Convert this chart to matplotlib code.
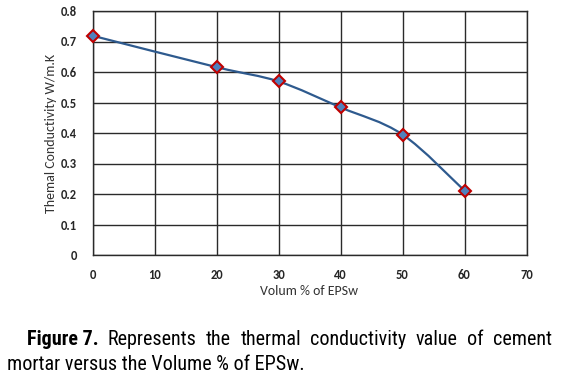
import numpy as np
import matplotlib
matplotlib.use("Agg")
import matplotlib.pyplot as plt
from matplotlib.path import Path
from matplotlib.patches import PathPatch

volume = [0, 20, 30, 40, 50, 60]
conductivity = [0.719, 0.616, 0.569, 0.484, 0.395, 0.211]

x_ticks = [0, 10, 20, 30, 40, 50, 60, 70]
y_ticks = [0, 0.1, 0.2, 0.3, 0.4, 0.5, 0.6, 0.7, 0.8]
y_labels = ["0", "0.1", "0.2", "0.3", "0.4", "0.5", "0.6", "0.7", "0.8"]

caption_bold = "Figure 7."
caption_line1 = "Represents the thermal conductivity value of cement"
caption_line2 = "mortar versus the Volume % of EPSw."

LINE_C = "#2E5A8E"
FACE_C = "#4F81BD"
EDGE_C = "#C00000"
GRID_C = "#2a2a2a"
TEXT_C = "#262626"


def smooth_path(xs, ys, tension=0.5):
    # excel-like smoothed line: cardinal spline as cubic beziers
    pts = np.column_stack([xs, ys]).astype(float)
    verts = [pts[0]]
    codes = [Path.MOVETO]
    n = len(pts)
    for i in range(n - 1):
        p0 = pts[max(i - 1, 0)]
        p1 = pts[i]
        p2 = pts[i + 1]
        p3 = pts[min(i + 2, n - 1)]
        c1 = p1 + (p2 - p0) * tension / 3
        c2 = p2 - (p3 - p1) * tension / 3
        verts += [c1, c2, p2]
        codes += [Path.CURVE4] * 3
    return Path(verts, codes)


fig = plt.figure(figsize=(5.69, 3.82), dpi=100)
W, H = 569, 382
ax = fig.add_axes([92.5 / W, 1 - 255 / H, (526.5 - 92.5) / W, (255 - 11) / H])

ax.set_xlim(0, 70)
ax.set_ylim(0, 0.8)
ax.set_xticks(x_ticks)
ax.set_yticks(y_ticks)
tick_font = dict(fontsize=9, fontweight="bold", family="Carlito", color=TEXT_C)
ax.set_xticklabels([str(t) for t in x_ticks], **tick_font)
ax.set_yticklabels(y_labels, **tick_font)
ax.tick_params(axis="x", length=0, pad=10)
ax.tick_params(axis="y", length=0, pad=11)
ax.grid(True, color=GRID_C, linewidth=1.0)
ax.set_axisbelow(True)
for s in ax.spines.values():
    s.set_color(GRID_C)
    s.set_linewidth(1.0)

ax.set_ylabel("Themal Conductivity W/m.K", fontsize=10, family="Carlito",
              color="#333333", labelpad=3)
ax.set_xlabel("Volum % of EPSw", fontsize=10, family="Carlito",
              color="#333333", labelpad=3)

patch = PathPatch(smooth_path(volume, conductivity), facecolor="none",
                  edgecolor=LINE_C, linewidth=1.6, zorder=3)
ax.add_patch(patch)
ax.plot(volume, conductivity, linestyle="none", marker="D", markersize=6,
        markerfacecolor=FACE_C, markeredgecolor=EDGE_C, markeredgewidth=1.5,
        zorder=4, clip_on=False)

# caption: size fitted to the second line, first line justified
fig.canvas.draw()
r = fig.canvas.get_renderer()
fam = ["Roboto Condensed", "DejaVu Sans"]
probe = fig.text(0, 0, caption_line2, family=fam, fontsize=12)
fs = 12 * (305 - 7) / probe.get_window_extent(r).width
probe.remove()
cap_font = dict(family=fam, fontsize=fs, color="black")

words = [(caption_bold, "bold")] + [(w, "normal") for w in caption_line1.split()]
texts = []
for w, wt in words:
    t = fig.text(0, 0, w, fontweight=wt, va="baseline", **cap_font)
    texts.append(t)
widths = [t.get_window_extent(r).width for t in texts]
x0, x1 = 27, 552
gap = (x1 - x0 - sum(widths)) / (len(widths) - 1)
x = x0
for t, w in zip(texts, widths):
    t.set_position((x / W, 1 - 345 / H))
    x += w + gap

fig.text(7 / W, 1 - 370 / H, caption_line2, va="baseline", **cap_font)

fig.savefig("out.png", dpi=100)
